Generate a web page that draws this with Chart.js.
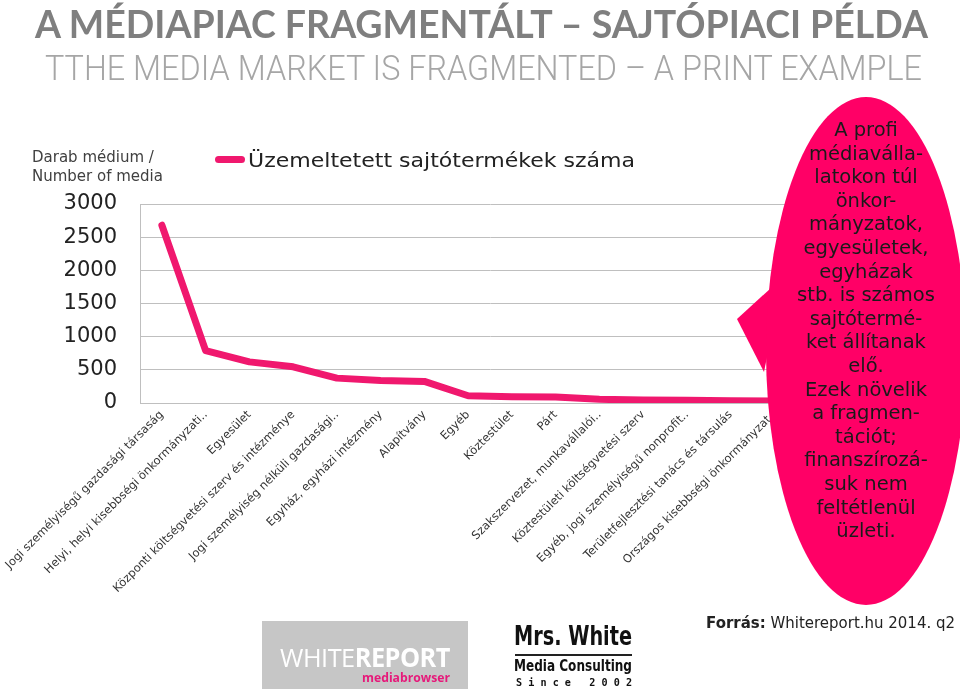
<!DOCTYPE html>
<html>
<head>
<meta charset="utf-8">
<script src="https://cdn.jsdelivr.net/npm/chart.js@4"></script>
<style>
  body { margin: 0; background: #fff; }
  #wrap { position: relative; width: 960px; height: 689px; overflow: hidden; font-family: "DejaVu Sans", sans-serif; }
  #chart { position: absolute; left: 0; top: 0; }
  .abs { position: absolute; white-space: nowrap; }
  .fit { display: inline-block; transform-origin: 0 0; }
  #title { left: 35px; top: 0px; font: bold 39px Lato, sans-serif; color: #7f7f7f; line-height: 46px; }
  #subtitle { left: 45px; top: 48px; font: 300 35px Roboto, sans-serif; color: #a6a6a6; line-height: 42px; }
  #ytitle { left: 32px; top: 148px; font-size: 15px; line-height: 19px; color: #404040; }
  #legend { left: 215px; top: 147px; font-size: 20px; color: #222; line-height: 26px; }
  #legend .sw { display: inline-block; width: 30px; height: 7px; border-radius: 4px; background: #f0186e; vertical-align: middle; margin-right: 3px; position: relative; top: -2px; }
  #bubble { position: absolute; left: 0; top: 0; }
  #btext { left: 766px; top: 118px; width: 200px; text-align: center; font-size: 19.5px; line-height: 23.6px; color: #1a1a1a; white-space: normal; }
  #source { left: 706px; top: 614px; font-size: 15.5px; color: #222; }
  #wr { left: 262px; top: 621px; width: 206px; height: 68px; background: #c6c6c6; }
  #wr .big { position: absolute; left: 18px; top: 18px; font: 26px "Open Sans", sans-serif; color: #fff; letter-spacing: -0.5px; }
  #wr .mb { position: absolute; left: 100px; top: 47px; font: bold 13px "Open Sans", sans-serif; color: #e6197a; }
  #mw { left: 514px; top: 620px; width: 120px; height: 69px; }
  #mw .a { position: absolute; left: 0; top: 0; font: bold 27px "DejaVu Sans Condensed", sans-serif; color: #111; }
  #mw .ln { position: absolute; left: 1px; top: 34px; width: 117px; height: 2px; background: #222; }
  #mw .b { position: absolute; left: 0; top: 37px; font: bold 15px "DejaVu Sans Condensed", sans-serif; color: #111; }
  #mw .c { position: absolute; left: 2px; top: 56px; font: bold 11px "DejaVu Sans Mono", monospace; color: #111; }
</style>
</head>
<body>
<div id="wrap">
  <canvas id="chart" width="960" height="689"></canvas>

  <div id="title" class="abs"><span class="fit" data-w="893">A MÉDIAPIAC FRAGMENTÁLT – SAJTÓPIACI PÉLDA</span></div>
  <div id="subtitle" class="abs"><span class="fit" data-w="877">TTHE MEDIA MARKET IS FRAGMENTED – A PRINT EXAMPLE</span></div>
  <div id="ytitle" class="abs">Darab médium /<br>Number of media</div>
  <div id="legend" class="abs"><span class="sw"></span><span class="fit" data-w="387">Üzemeltetett sajtótermékek száma</span></div>

  <svg id="bubble" width="960" height="689">
    <path d="M 783 277 L 737 319 L 764 372 Z" fill="#ff0066"/>
    <ellipse cx="866" cy="351" rx="100" ry="254" fill="#ff0066"/>
  </svg>
  <div id="btext" class="abs">A profi<br>médiavállа-<br>latokon túl<br>önkor-<br>mányzatok,<br>egyesületek,<br>egyházak<br>stb. is számos<br>sajtótermé-<br>ket állítanak<br>elő.<br>Ezek növelik<br>a fragmen-<br>tációt;<br>finanszírozá-<br>suk nem<br>feltétlenül<br>üzleti.</div>

  <div id="source" class="abs"><span class="fit" data-w="249"><b>Forrás:</b> Whitereport.hu 2014. q2</span></div>

  <div id="wr" class="abs">
    <span class="big fit" data-w="170">WHITE<b>REPORT</b></span>
    <span class="mb fit" data-w="88">mediabrowser</span>
  </div>
  <div id="mw" class="abs">
    <span class="a fit" data-w="118">Mrs. White</span>
    <div class="ln"></div>
    <span class="b fit" data-w="118">Media Consulting</span>
    <span class="c fit" data-w="116">S i n c e &nbsp; 2 0 0 2</span>
  </div>
</div>

<script>
// Üzemeltetett sajtótermékek száma gazdálkodási forma szerint

var categories = [
    'Jogi személyiségű gazdasági társaság',
    'Helyi, helyi kisebbségi önkormányzati..',
    'Egyesület',
    'Központi költségvetési szerv és intézménye',
    'Jogi személyiség nélküli gazdasági..',
    'Egyház, egyházi intézmény',
    'Alapítvány',
    'Egyéb',
    'Köztestület',
    'Párt',
    'Szakszervezet, munkavállalói..',
    'Köztestületi költségvetési szerv',
    'Egyéb, jogi személyiségű nonprofit..',
    'Területfejlesztési tanács és társulás',
    'Országos kisebbségi önkormányzat..',
    'Külföldi..'
];

var mediaCounts = [2680, 790, 620, 545, 375, 340, 325, 110, 95, 90, 55, 45, 40, 35, 30, 25];

var seriesLabel = 'Üzemeltetett sajtótermékek száma';

var yMin = 0;
var yMax = 3000;
var yStep = 500;

var lineColor = '#f0186e';
var gridColor = '#bfbfbf';

// szöveg szélesség igazítása
function fitTexts() {
    document.querySelectorAll('.fit').forEach(function (el) {
        var target = parseFloat(el.getAttribute('data-w'));
        var w = el.getBoundingClientRect().width;
        if (w > 0) el.style.transform = 'scaleX(' + (target / w) + ')';
    });
}

function initializeChart() {
    Chart.defaults.font.family = '"DejaVu Sans", sans-serif';

    var ctx = document.getElementById('chart').getContext('2d');

    var chart = new Chart(ctx, {
        type: 'line',
        data: {
            labels: categories,
            datasets: [{
                label: seriesLabel,
                data: mediaCounts,
                borderColor: lineColor,
                backgroundColor: lineColor,
                borderWidth: 7,
                borderCapStyle: 'round',
                borderJoinStyle: 'round',
                pointRadius: 0,
                tension: 0,
                fill: false
            }]
        },
        options: {
            responsive: false,
            animation: false,
            layout: {
                padding: { top: 204, right: 120, left: 0, bottom: 0 }
            },
            scales: {
                x: {
                    offset: true,
                    grid: { display: false, drawTicks: false },
                    border: { display: true, color: gridColor, width: 1 },
                    ticks: {
                        autoSkip: false,
                        maxRotation: 45,
                        minRotation: 45,
                        padding: 5,
                        color: '#333',
                        font: { size: 11.5 }
                    },
                    afterFit: function (scale) {
                        scale.height = 286;
                        scale.paddingLeft = 0;
                        scale.paddingRight = 0;
                    }
                },
                y: {
                    min: yMin,
                    max: yMax,
                    grid: { color: gridColor, lineWidth: 1, drawTicks: false },
                    border: { display: true, color: gridColor, width: 1 },
                    ticks: {
                        stepSize: yStep,
                        padding: 23,
                        color: '#222',
                        font: { size: 21 },
                        callback: function (value) {
                            return String(value);
                        }
                    },
                    afterFit: function (scale) {
                        scale.width = 140;
                    }
                }
            },
            plugins: {
                legend: { display: false },
                tooltip: { enabled: false }
            }
        }
    });

    return chart;
}

initializeChart();
fitTexts();
</script>
</body>
</html>
